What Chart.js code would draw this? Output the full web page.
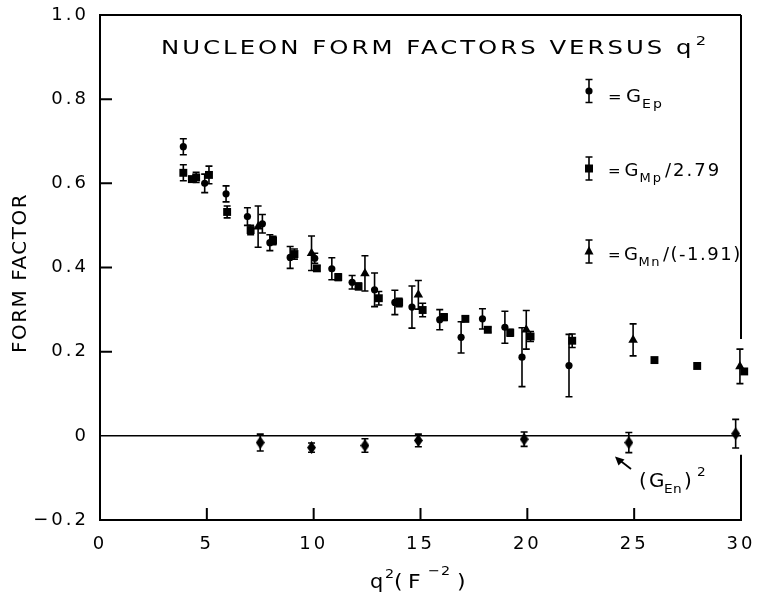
<!DOCTYPE html>
<html><head><meta charset="utf-8">
<script src="https://cdn.jsdelivr.net/npm/chart.js@4/dist/chart.umd.min.js"></script>
<style>html,body{margin:0;padding:0;background:#fff}canvas{display:block}</style>
</head><body>
<canvas id="c" width="759" height="600"></canvas>
<script>
// ---- data ----
const gepX   = [3.9, 4.9, 5.9, 6.9, 7.6, 7.95, 8.9, 10.05, 10.85, 11.8, 12.85, 13.8, 14.6, 15.9, 16.9, 17.9, 18.95, 19.75, 21.95];
const gepY   = [0.687, 0.600, 0.575, 0.521, 0.504, 0.459, 0.424, 0.422, 0.397, 0.365, 0.347, 0.317, 0.306, 0.276, 0.234, 0.278, 0.258, 0.187, 0.167];
const gepErr = [0.019, 0.022, 0.019, 0.021, 0.022, 0.019, 0.026, 0.012, 0.026, 0.016, 0.040, 0.029, 0.050, 0.024, 0.037, 0.024, 0.038, 0.070, 0.074];

const gmpX   = [3.9, 4.3, 4.5, 5.1, 5.95, 7.05, 8.1, 9.1, 10.15, 11.15, 12.1, 13.05, 14.0, 15.1, 16.1, 17.1, 18.15, 19.2, 20.15, 22.1, 25.95, 27.95, 30.15];
const gmpY   = [0.625, 0.610, 0.614, 0.620, 0.532, 0.489, 0.464, 0.432, 0.398, 0.377, 0.355, 0.327, 0.317, 0.299, 0.282, 0.278, 0.252, 0.245, 0.236, 0.226, 0.180, 0.166, 0.153];
const gmpErr = [0.019, 0.006, 0.012, 0.021, 0.014, 0.011, 0.010, 0.012, 0.006, 0.008, 0.008, 0.016, 0.010, 0.016, 0.008, 0.006, 0.006, 0.008, 0.012, 0.016, 0, 0, 0];

const gmnX   = [7.4, 9.9, 12.4, 14.9, 19.95, 24.95, 29.95];
const gmnY   = [0.497, 0.434, 0.386, 0.335, 0.252, 0.228, 0.165];
const gmnErr = [0.049, 0.041, 0.042, 0.034, 0.046, 0.038, 0.041];

const genX   = [7.5, 9.9, 12.4, 14.9, 19.85, 24.75, 29.75];
const genY   = [-0.016, -0.028, -0.023, -0.011, -0.008, -0.016, 0.005];
const genErr = [0.020, 0.011, 0.016, 0.015, 0.017, 0.024, 0.034];

const xTickLabels = ['0', '5', '10', '15', '20', '25', '30'];
const yTickLabels = ['\u22120.2', '0', '0.2', '0.4', '0.6', '0.8', '1.0'];

const FONT = '"DejaVu Sans"';
const pts = (xs, ys) => xs.map((x, i) => ({x, y: ys[i]}));

// tall diamond marker
const diamond = document.createElement('canvas');
diamond.width = 9; diamond.height = 13;
(function(){const d = diamond.getContext('2d');d.fillStyle='#000';d.beginPath();d.moveTo(4.5,0);d.lineTo(9,6.5);d.lineTo(4.5,13);d.lineTo(0,6.5);d.closePath();d.fill();})();

// draw a run of text pieces left to right, horizontally stretched by sx
function rich(ctx, x, y, parts, spacing, sx) {
  sx = sx || 1;
  ctx.save();
  ctx.translate(x, y);
  ctx.scale(sx, 1);
  ctx.letterSpacing = spacing + 'px';
  ctx.textAlign = 'left'; ctx.textBaseline = 'alphabetic';
  let cx = 0;
  parts.forEach(([t, size, dy, extra]) => {
    ctx.font = size + 'px ' + FONT;
    ctx.fillText(t, cx, dy || 0);
    cx += ctx.measureText(t).width + (extra || 0);
  });
  ctx.restore();
}
// draw pieces at given absolute x positions
function placed(ctx, y, parts, sx) {
  parts.forEach(([t, x, size, dy]) => {
    ctx.save();
    ctx.translate(x, y + (dy || 0));
    ctx.scale(sx || 1, 1);
    ctx.letterSpacing = '0px';
    ctx.textAlign = 'left'; ctx.textBaseline = 'alphabetic';
    ctx.font = size + 'px ' + FONT;
    ctx.fillText(t, 0, 0);
    ctx.restore();
  });
}

function errBar(ctx, px, y1, y2) {
  ctx.beginPath();
  ctx.moveTo(px, y1); ctx.lineTo(px, y2);
  ctx.moveTo(px - 3.5, y1); ctx.lineTo(px + 3.5, y1);
  ctx.moveTo(px - 3.5, y2); ctx.lineTo(px + 3.5, y2);
  ctx.stroke();
}

const errorBarPlugin = {
  id: 'errorBars',
  beforeDatasetsDraw(chart) {
    const {ctx, scales: {x, y}} = chart;
    ctx.save();
    ctx.strokeStyle = '#000'; ctx.lineWidth = 1.6;
    chart.data.datasets.forEach(ds => {
      if (!ds.errors) return;
      ds.data.forEach((p, i) => {
        const e = ds.errors[i]; if (!e) return;
        errBar(ctx, x.getPixelForValue(p.x), y.getPixelForValue(p.y + e), y.getPixelForValue(p.y - e));
      });
    });
    ctx.restore();
  }
};

const framePlugin = {
  id: 'frame',
  beforeDraw(chart) { chart.ctx.letterSpacing = '3px'; },
  afterDraw(chart) {
    const {ctx, chartArea: a, scales: {x, y}} = chart;
    ctx.save();
    ctx.letterSpacing = '0px';
    ctx.strokeStyle = '#000'; ctx.fillStyle = '#000';
    ctx.lineWidth = 2;
    ctx.beginPath();
    ctx.moveTo(a.left, a.top); ctx.lineTo(a.right, a.top);
    ctx.moveTo(a.right, a.top); ctx.lineTo(a.right, y.getPixelForValue(0.23));
    ctx.moveTo(a.right, y.getPixelForValue(-0.045)); ctx.lineTo(a.right, a.bottom);
    ctx.stroke();
    // inward ticks
    ctx.beginPath();
    x.ticks.forEach(t => {
      if (t.value <= x.min || t.value >= x.max) return;
      const px = x.getPixelForValue(t.value);
      ctx.moveTo(px, a.bottom); ctx.lineTo(px, a.bottom - 12);
    });
    y.ticks.forEach(t => {
      if (t.value <= y.min + 1e-9 || t.value >= y.max - 1e-9 || Math.abs(t.value) < 1e-9) return;
      const py = y.getPixelForValue(t.value);
      ctx.moveTo(a.left, py); ctx.lineTo(a.left + 12, py);
    });
    ctx.stroke();

    // title
    rich(ctx, 161, 54, [['NUCLEON FORM FACTORS VERSUS q', 19.5, 0, 1], ['2', 13, -9]], 2.4, 1.25);

    // legend
    ctx.lineWidth = 1.6;
    const lx = 589;
    errBar(ctx, lx, 79.5, 102.5);
    ctx.beginPath(); ctx.arc(lx, 91, 3.6, 0, Math.PI * 2); ctx.fill();
    rich(ctx, 608, 102, [['=', 15, 0, 2], ['G', 18, 0, -1], ['Ep', 13, 6]], 2, 1.08);
    errBar(ctx, lx, 157, 180);
    ctx.fillRect(lx - 4, 164.5, 8, 8);
    rich(ctx, 608, 176, [['=', 15, 0, 2], ['G', 18, 0, -1], ['Mp', 13, 6, 2], ['/2.79', 18, 0]], 2, 1.0);
    errBar(ctx, lx, 240, 263);
    ctx.beginPath(); ctx.moveTo(lx, 246); ctx.lineTo(lx + 4.5, 254.5); ctx.lineTo(lx - 4.5, 254.5); ctx.closePath(); ctx.fill();
    rich(ctx, 608, 260, [['=', 15, 0, 2], ['G', 18, 0, -1], ['Mn', 13, 6, 2], ['/(-1.91)', 18, 0]], 1.5, 1.0);

    // (GEn)^2 annotation with arrow
    ctx.lineWidth = 1.8;
    ctx.beginPath(); ctx.moveTo(631, 469); ctx.lineTo(620, 460.5); ctx.stroke();
    ctx.beginPath(); ctx.moveTo(615, 456.5); ctx.lineTo(624.5, 459.5); ctx.lineTo(618.5, 465.5); ctx.closePath(); ctx.fill();
    placed(ctx, 487, [['(', 639, 19], ['G', 649, 19], ['E', 664, 13, 6], ['n', 673, 13, 6], [')', 684, 19], ['2', 697, 13, -11]], 1.05);

    // x-axis title
    placed(ctx, 588, [['q', 370, 19], ['2', 385, 13, -10], ['(', 394, 20], ['F', 408, 20], ['\u2212', 428, 13, -13], ['2', 441, 13, -13], [')', 457, 20]], 1.1);

    // y-axis title
    ctx.save();
    ctx.translate(21, 274);
    ctx.rotate(-Math.PI / 2);
    ctx.letterSpacing = '1.5px';
    ctx.font = '20px ' + FONT;
    ctx.textAlign = 'center'; ctx.textBaseline = 'middle';
    ctx.fillText('FORM FACTOR', 1, 0);
    ctx.restore();

    ctx.restore();
    ctx.letterSpacing = '0px';
  }
};

new Chart(document.getElementById('c'), {
  type: 'scatter',
  data: {
    datasets: [
      {label: 'GEp', data: pts(gepX, gepY), errors: gepErr, pointStyle: 'circle', pointRadius: 3.6, backgroundColor: '#000', borderWidth: 0, clip: false},
      {label: 'GMp/2.79', data: pts(gmpX, gmpY), errors: gmpErr, pointStyle: 'rect', pointRadius: 5.6, backgroundColor: '#000', borderWidth: 0, clip: false},
      {label: 'GMn/(-1.91)', data: pts(gmnX, gmnY), errors: gmnErr, pointStyle: 'triangle', pointRadius: 5.5, backgroundColor: '#000', borderWidth: 0, clip: false},
      {label: '(GEn)^2', data: pts(genX, genY), errors: genErr, pointStyle: diamond, pointRadius: 6, backgroundColor: '#000', borderWidth: 0, clip: false}
    ]
  },
  options: {
    responsive: false,
    devicePixelRatio: 1,
    animation: false,
    events: [],
    layout: {autoPadding: false, padding: {top: 15, right: 18, left: 0, bottom: 0}},
    plugins: {legend: {display: false}, tooltip: {enabled: false}, title: {display: false}},
    scales: {
      x: {
        type: 'linear', min: 0, max: 30,
        afterFit(s) { s.height = 80; s.paddingLeft = 0; s.paddingRight = 0; },
        ticks: {stepSize: 5, autoSkip: false, maxRotation: 0, padding: 6, color: '#000',
                font: {family: 'DejaVu Sans', size: 18},
                callback: (v, i) => xTickLabels[i]},
        grid: {display: false},
        border: {display: true, color: '#000', width: 2}
      },
      y: {
        type: 'linear', min: -0.2, max: 1.0,
        afterFit(s) { s.width = 100; s.paddingTop = 0; s.paddingBottom = 0; },
        ticks: {stepSize: 0.2, autoSkip: false, padding: 11, color: '#000',
                font: {family: 'DejaVu Sans', size: 18},
                callback: (v, i) => yTickLabels[i]},
        grid: {drawTicks: false, lineWidth: 1.5,
               color: c => (c.tick && Math.abs(c.tick.value) < 1e-9) ? '#000' : 'rgba(0,0,0,0)'},
        border: {display: true, color: '#000', width: 2}
      }
    }
  },
  plugins: [errorBarPlugin, framePlugin]
});
</script>
</body></html>
